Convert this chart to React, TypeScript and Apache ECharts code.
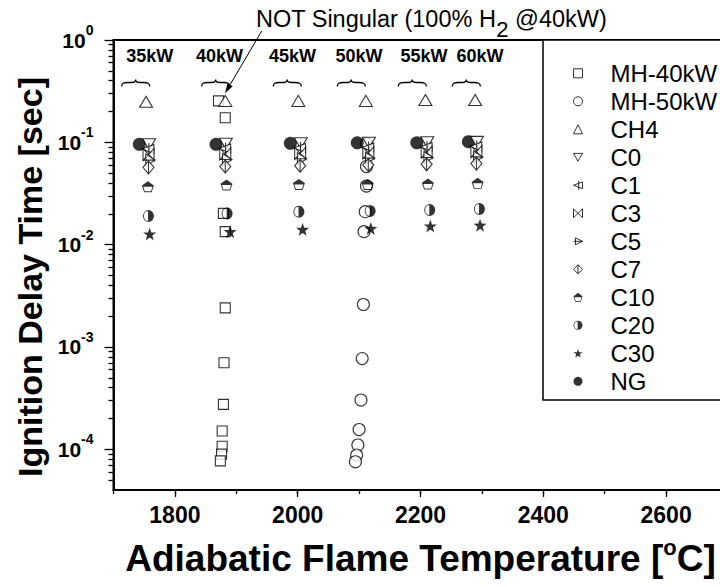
import React, { useEffect, useRef } from 'react';
import * as echarts from 'echarts';

const FONT = '"Liberation Sans", Arial, Helvetica, sans-serif';

// ---- data: adiabatic flame temperature [°C] vs ignition delay time [s] ----
const powerLabels = ['35kW', '40kW', '45kW', '50kW', '55kW', '60kW'];

const mh40T = [1871, 1882, 1879, 1882, 1882, 1880, 1879, 1877, 1877, 1876, 1874];
const mh40Tau = [0.254, 0.174, 0.0202, 0.0134, 0.00241, 0.0007, 0.000275, 0.000151, 0.000107, 0.0000897, 0.0000771];

const mh50T = [2112, 2112, 2112, 2110, 2108, 2107, 2105, 2103, 2100, 2098, 2096, 2094];
const mh50Tau = [0.097, 0.058, 0.0374, 0.021, 0.0134, 0.0026, 0.00077, 0.000303, 0.000156, 0.00011, 0.0000877, 0.0000755];

const ch4T = [1753, 1882, 2001, 2111, 2208, 2289];
const ch4Tau = [0.249, 0.254, 0.254, 0.254, 0.259, 0.259];

const c0T = [1758, 1883, 2005, 2116, 2211, 2292];
const c0Tau = [0.096, 0.097, 0.098, 0.099, 0.1, 0.101];

const c1T = [1756, 1881, 2003, 2114, 2209, 2290];
const c1Tau = [0.086, 0.087, 0.088, 0.089, 0.09, 0.091];

const c3T = [1757, 1882, 2004, 2115, 2210, 2291];
const c3Tau = [0.076, 0.077, 0.078, 0.079, 0.08, 0.081];

const c5T = [1758, 1883, 2005, 2116, 2211, 2292];
const c5Tau = [0.067, 0.068, 0.069, 0.07, 0.071, 0.072];

const c7T = [1757, 1882, 2004, 2115, 2210, 2291];
const c7Tau = [0.057, 0.058, 0.059, 0.06, 0.061, 0.062];

const c10T = [1756, 1884, 2002, 2114, 2212, 2293];
const c10Tau = [0.0368, 0.0383, 0.0388, 0.0388, 0.0391, 0.0397];

const c20T = [1757, 1885, 2002, 2118, 2215, 2296];
const c20Tau = [0.019, 0.0202, 0.021, 0.0213, 0.0218, 0.0223];

const c30T = [1759, 1890, 2008, 2119, 2216, 2297];
const c30Tau = [0.0127, 0.0134, 0.0141, 0.0144, 0.0152, 0.0155];

const ngT = [1742, 1867, 1988, 2097, 2194, 2278];
const ngTau = [0.0956, 0.0956, 0.0977, 0.099, 0.099, 0.1014];

const legendOrder = ['MH-40kW', 'MH-50kW', 'CH4', 'C0', 'C1', 'C3', 'C5', 'C7', 'C10', 'C20', 'C30', 'NG'];

// ---- axis ticks ----
const X_MIN = 1700;
const X_MAX = 2700;
const Y_MIN = 4e-5;
const Y_MAX = 1;
const xLabelValues = [1800, 2000, 2200, 2400, 2600];
const xAllTickValues = [1700, 1800, 1900, 2000, 2100, 2200, 2300, 2400, 2500, 2600, 2700];
const yDecadeValues = [1e-4, 1e-3, 1e-2, 1e-1, 1];
const yDecadeExponents = [-4, -3, -2, -1, 0];
// minor tick marks of the log axis, as exponents: log10(m x 10^k), m = 2..9
const yMinorExponents: number[] = [];
for (let k = -5; k <= -1; k++) {
  for (let m = 2; m <= 9; m++) {
    const e = k + Math.log10(m);
    if (e > Math.log10(Y_MIN) && e < 0) yMinorExponents.push(e);
  }
}

// ---- annotation layout (pixels) ----
const braceLeft = [121.7, 201.7, 273.3, 337.3, 398.3, 452.3];
const labelCenter = [149.7, 219.5, 292.5, 359, 424, 480];

// ---- marker shapes ----
const SYM_DOWN = 'path://M0,0 L100,0 L50,87 Z';
const SYM_C1 = 'path://M100,12 L0,50 L100,88 Z M58,0 L58,100';
const SYM_C3 = 'path://M0,0 L100,100 L100,0 L0,100 Z';
const SYM_C5 = 'path://M0,50 L100,50 M22,12 L100,50 L22,88 Z';
const SYM_C7 = 'path://M50,0 L100,50 L50,100 L0,50 Z M50,0 L50,100';
const SYM_C10 = 'path://M50,0 L100,38 L81,100 L19,100 L0,38 Z M12,50 L24,91 L76,91 L88,50 Z';
const SYM_C20 = 'path://M50,0 A50,50 0 1,1 50,100 A50,50 0 1,1 50,0 Z M46,8.2 A42,42 0 0,0 46,91.8 Z';
const SYM_STAR =
  'path://M50,0 L61.76,33.82 L97.55,34.55 L69.02,56.18 L79.39,90.45 L50,70 L20.61,90.45 L30.98,56.18 L2.45,34.55 L38.24,33.82 Z';

const BRACE_D = 'M0,7 C0,3.6 2,3 6,3 L10,3 C13,3 14,2.4 14,0 C14,2.4 15,3 18,3 L22,3 C26,3 28,3.6 28,7';
echarts.graphic.registerShape('brace', echarts.graphic.extendPath(BRACE_D, {}));

const hollow = { color: '#fff', borderColor: '#000', borderWidth: 1.1 };
const solid = { color: '#000', borderColor: 'rgba(0,0,0,0)', borderWidth: 0 };

function pairs(xs: number[], ys: number[]) {
  return xs.map((x, i) => [x, ys[i]]);
}

function scatter(name: string, xs: number[], ys: number[], symbol: string, size: any, itemStyle: any) {
  return {
    type: 'scatter',
    name,
    data: pairs(xs, ys),
    symbol,
    symbolSize: size,
    itemStyle,
    xAxisIndex: 0,
    yAxisIndex: 0,
    emphasis: { disabled: true },
    silent: true,
  };
}

const GRID_LEFT = 113.5;
const GRID_TOP = 40;
const GRID_W = 614;
const GRID_H = 450;

const axisLine = { show: true, onZero: false, lineStyle: { color: '#000', width: 2 } };
const noLine = { show: false, onZero: false };
const tickLine = { color: '#000', width: 1.3 };

function buildOption() {
  const braces = braceLeft.map((x) => ({
    type: 'brace',
    x,
    y: 79.5,
    style: { fill: 'none', stroke: '#000', lineWidth: 1.3 },
  }));
  const groupLabels = powerLabels.map((t, i) => ({
    type: 'text',
    x: labelCenter[i],
    y: 56,
    style: {
      text: t,
      fontSize: 18,
      fontWeight: 'bold',
      fontFamily: FONT,
      fill: '#000',
      align: 'center',
      verticalAlign: 'middle',
      textAlign: 'center',
      textVerticalAlign: 'middle',
    },
  }));

  return {
    animation: false,
    backgroundColor: '#fff',
    grid: {
      left: GRID_LEFT,
      top: GRID_TOP,
      width: GRID_W,
      height: GRID_H,
      show: true,
      borderColor: '#000',
      borderWidth: 2,
      backgroundColor: 'transparent',
      containLabel: false,
      outerBoundsMode: 'none',
    },
    xAxis: [
      {
        // bottom axis: short ticks every 100, labels every 200
        type: 'value',
        position: 'bottom',
        min: X_MIN,
        max: X_MAX,
        axisLine,
        axisTick: { show: true, customValues: xAllTickValues, length: 4, lineStyle: tickLine },
        axisLabel: {
          customValues: xLabelValues,
          formatter: (v: number) => String(v),
          fontSize: 23,
          fontWeight: 'bold',
          fontFamily: FONT,
          color: '#000',
          margin: 13,
        },
        splitLine: { show: false },
        name: '{t|Adiabatic Flame Temperature [}{s|o}{t|C]}',
        nameLocation: 'middle',
        nameGap: 46,
        nameTextStyle: {
          rich: {
            t: { fontSize: 37, fontWeight: 'bold', fontFamily: FONT, color: '#000' },
            s: { fontSize: 22, fontWeight: 'bold', fontFamily: FONT, color: '#000', padding: [0, 0, 22, 0] },
          },
        },
      },
      {
        // longer ticks at the labelled values, shifted down onto the bottom edge
        type: 'value',
        position: 'top',
        offset: -GRID_H,
        min: X_MIN,
        max: X_MAX,
        axisLine: noLine,
        axisTick: { show: true, inside: true, customValues: xLabelValues, length: 7, lineStyle: tickLine },
        axisLabel: { show: false },
        splitLine: { show: false },
      },
    ],
    yAxis: [
      {
        type: 'log',
        logBase: 10,
        position: 'left',
        min: Y_MIN,
        max: Y_MAX,
        axisLine,
        axisTick: { show: false },
        axisLabel: {
          customValues: yDecadeValues,
          margin: 20,
          formatter: (v: number) => `{b|10}{s|${Math.round(Math.log10(v))}}`,
          rich: {
            b: { fontSize: 21, fontWeight: 'bold', fontFamily: FONT, color: '#000' },
            s: { fontSize: 14, fontWeight: 'bold', fontFamily: FONT, color: '#000', padding: [0, 0, 20, 0] },
          },
        },
        splitLine: { show: false },
        name: 'Ignition Delay Time [sec]',
        nameLocation: 'middle',
        nameGap: 63,
        nameTextStyle: {
          fontSize: 34,
          fontWeight: 'bold',
          fontFamily: FONT,
          color: '#000',
          padding: [0, 24, 0, 0],
        },
      },
      {
        // minor log ticks on a linear exponent scale spanning the same range
        type: 'value',
        position: 'left',
        min: Math.log10(Y_MIN),
        max: Math.log10(Y_MAX),
        axisLine,
        axisTick: { show: true, customValues: yMinorExponents, length: 5, lineStyle: tickLine },
        axisLabel: { show: false },
        splitLine: { show: false },
      },
      {
        // decade ticks, shifted from the right edge onto the left edge
        type: 'value',
        position: 'right',
        offset: -GRID_W,
        min: Math.log10(Y_MIN),
        max: Math.log10(Y_MAX),
        axisLine,
        axisTick: { show: true, inside: true, customValues: yDecadeExponents, length: 9, lineStyle: tickLine },
        axisLabel: { show: false },
        splitLine: { show: false },
      },
    ],
    legend: {
      data: legendOrder,
      orient: 'vertical',
      left: 543,
      top: 40,
      itemWidth: 9,
      itemHeight: 9,
      itemGap: 4,
      padding: [21.3, 20, 6.7, 30],
      borderColor: '#000',
      borderWidth: 1.5,
      borderRadius: 0,
      backgroundColor: '#fff',
      selectedMode: false,
      itemStyle: { borderWidth: 1 },
      textStyle: {
        fontSize: 24,
        fontFamily: FONT,
        color: '#000',
        lineHeight: 24,
        padding: [0, 0, 0, 23],
      },
    },
    series: [
      scatter('MH-40kW', mh40T, mh40Tau, 'rect', 10, hollow),
      scatter('MH-50kW', mh50T, mh50Tau, 'circle', 12, hollow),
      scatter('NG', ngT, ngTau, 'circle', 13, solid),
      scatter('CH4', ch4T, ch4Tau, 'triangle', [13, 11], hollow),
      scatter('C0', c0T, c0Tau, SYM_DOWN, [13, 11], hollow),
      scatter('C1', c1T, c1Tau, SYM_C1, [12, 12], hollow),
      scatter('C3', c3T, c3Tau, SYM_C3, [11, 12], hollow),
      scatter('C5', c5T, c5Tau, SYM_C5, [12, 12], hollow),
      scatter('C7', c7T, c7Tau, SYM_C7, [11, 13], hollow),
      scatter('C10', c10T, c10Tau, SYM_C10, [12, 11], solid),
      scatter('C20', c20T, c20Tau, SYM_C20, [11, 12], solid),
      scatter('C30', c30T, c30Tau, SYM_STAR, 13, solid),
    ],
    graphic: [
      ...braces,
      ...groupLabels,
      {
        type: 'text',
        x: 256,
        y: 19,
        style: {
          text: '{a|NOT Singular (100% H}{b|2}{a| @40kW)}',
          align: 'left',
          verticalAlign: 'middle',
          rich: {
            a: { fontSize: 23.5, fontFamily: FONT, fill: '#000' },
            b: { fontSize: 22, fontFamily: FONT, fill: '#000', padding: [20, 0, 0, 0] },
          },
        },
      },
      {
        type: 'line',
        shape: { x1: 261.7, y1: 31, x2: 230.1, y2: 84.7 },
        style: { stroke: '#000', lineWidth: 1 },
      },
      {
        type: 'polygon',
        shape: { points: [[225, 93.3], [232.7, 86.2], [227.5, 83.2]] },
        style: { fill: '#000' },
      },
    ],
  };
}

export default function App() {
  const ref = useRef<HTMLDivElement>(null);
  useEffect(() => {
    if (!ref.current) return;
    const chart = echarts.init(ref.current, null, { renderer: 'svg', width: 720, height: 587 });
    chart.setOption(buildOption() as any);
    return () => chart.dispose();
  }, []);
  return (
    <div
      ref={ref}
      style={{ position: 'fixed', left: 0, top: 0, width: 720, height: 587, background: '#fff', overflow: 'hidden' }}
    />
  );
}
